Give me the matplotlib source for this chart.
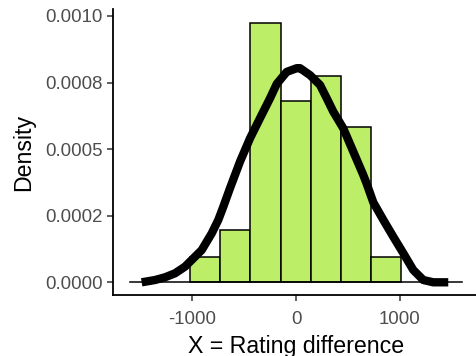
import matplotlib
matplotlib.use("Agg")
import matplotlib.pyplot as plt

# Histogram data (density scale)
bin_edges = [-1025, -733, -441, -149, 143, 435, 727, 1019]
bin_density = [0.0000965, 0.000197, 0.000972, 0.000680, 0.000776, 0.000583, 0.0000965]

# Density curve
curve_x = [-1491, -1362, -1266, -1169, -1073, -1008, -911, -814, -751, -702, -638,
           -541, -444, -348, -251, -186, -90, 7, 39, 135, 232, 297, 360, 457,
           554, 650, 683, 747, 844, 940, 1037, 1133, 1230, 1326, 1471]
curve_y = [0.0, 0.0000086, 0.0000188, 0.0000338, 0.0000586, 0.0000837, 0.000121,
           0.000184, 0.000234, 0.000284, 0.000353, 0.000453, 0.000541, 0.000616,
           0.000691, 0.000745, 0.000790, 0.000804, 0.000804, 0.000778, 0.000741,
           0.000691, 0.000641, 0.000578, 0.000490, 0.000403, 0.000370, 0.000300,
           0.000234, 0.000171, 0.000109, 0.0000462, 0.0000086, 0.0, 0.0]

# Baseline of the density (y = 0)
baseline_x = [-1604, 1604]
baseline_y = [0.0, 0.0]

y_ticks = [0.0, 0.00025, 0.0005, 0.00075, 0.001]
y_ticklabels = ["0.0000", "0.0002", "0.0005", "0.0008", "0.0010"]
x_ticks = [-1000, 0, 1000]
x_ticklabels = ["-1000", "0", "1000"]

plt.rcParams["font.family"] = ["Liberation Sans", "DejaVu Sans"]

W, H = 476, 356
fig = plt.figure(figsize=(W / 100, H / 100), dpi=100)
left, right, top, bottom = 113, 479, 8.8, 295.3
ax = fig.add_axes([left / W, (H - bottom) / H, (right - left) / W, (bottom - top) / H])

widths = [bin_edges[i + 1] - bin_edges[i] for i in range(len(bin_density))]
ax.bar(bin_edges[:-1], bin_density, width=widths, align="edge",
       color="#BCEE68", edgecolor="black", linewidth=1.1, zorder=2)
ax.plot(baseline_x, baseline_y, color="black", linewidth=1.1, zorder=3)
ax.plot(curve_x, curve_y, color="black", linewidth=6.0, solid_capstyle="butt",
        solid_joinstyle="round", zorder=4)

ax.set_xlim(-1768, 1768)
ax.set_ylim(-0.0000488, 0.001027)
ax.set_yticks(y_ticks)
ax.set_yticklabels(y_ticklabels)
ax.set_xticks(x_ticks)
ax.set_xticklabels(x_ticklabels)

for s in ["top", "right"]:
    ax.spines[s].set_visible(False)
for s in ["left", "bottom"]:
    ax.spines[s].set_linewidth(1.3)
    ax.spines[s].set_color("black")

ax.tick_params(axis="both", direction="out", length=4.5, width=1.1, color="#333333",
               labelsize=13.4, labelcolor="#4D4D4D", pad=3)
ax.tick_params(axis="x", pad=7)

ax.set_xlabel("X = Rating difference", fontsize=16.7, color="black", labelpad=4.5)
ax.set_ylabel("Density", fontsize=16.7, color="black", labelpad=7)

fig.savefig("out.png", dpi=100, facecolor="white")
